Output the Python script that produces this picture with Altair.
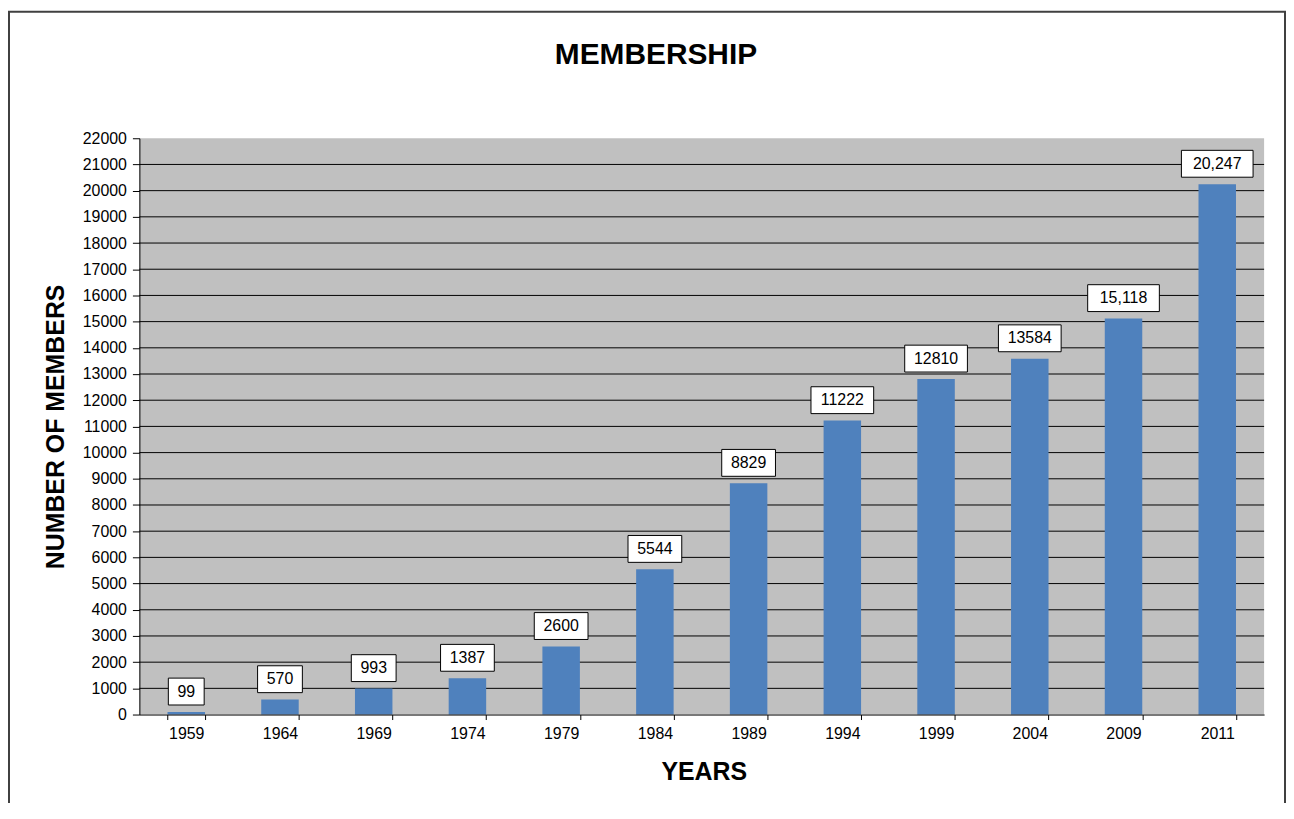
import altair as alt
import pandas as pd

# ---- data ----
years = ["1959", "1964", "1969", "1974", "1979", "1984", "1989", "1994", "1999", "2004", "2009", "2011"]
members = [99, 570, 993, 1387, 2600, 5544, 8829, 11222, 12810, 13584, 15118, 20247]
labels = ["99", "570", "993", "1387", "2600", "5544", "8829", "11222", "12810", "13584", "15,118", "20,247"]
y_ticks = [0, 1000, 2000, 3000, 4000, 5000, 6000, 7000, 8000, 9000, 10000, 11000,
           12000, 13000, 14000, 15000, 16000, 17000, 18000, 19000, 20000, 21000, 22000]

# ---- layout ----
W, H = 1130, 579
YMAX = 22000
U = YMAX / H  # data units per pixel
FONT = "Liberation Sans"

df = pd.DataFrame({"year": years, "members": members, "label": labels})
grid_df = pd.DataFrame({"members": y_ticks[1:-1]})
one = pd.DataFrame({"k": [0]})

yscale = alt.Scale(domain=[0, YMAX], nice=False, zero=True)
xscale = alt.Scale(paddingInner=0.6, paddingOuter=0.3)

yaxis = alt.Axis(
    title="NUMBER OF MEMBERS", values=y_ticks, format="d", grid=False,
    domainColor="black", domainWidth=1, tickColor="black", tickSize=7, tickWidth=1,
    labelFont=FONT, labelFontSize=16, labelColor="black", labelPadding=6,
    titleFont=FONT, titleFontSize=25, titleFontWeight="bold", titleColor="black",
    titleAngle=270, titleAlign="center", titleBaseline="middle",
    titleX=-84, titleY=H / 2, zindex=1,
)
xaxis = alt.Axis(
    title="YEARS", labelAngle=0, grid=False, tickBand="extent",
    domainColor="black", domainWidth=1, tickColor="black", tickSize=5, tickWidth=1,
    labelFont=FONT, labelFontSize=16, labelColor="black", labelPadding=6,
    titleFont=FONT, titleFontSize=25, titleFontWeight="bold", titleColor="black",
    titleAlign="center", titleBaseline="middle", titleX=W / 2 + 2, titleY=57, zindex=1,
)

def X():
    return alt.X("year:N", sort=years, scale=xscale, axis=xaxis)

def Y(field):
    return alt.Y(field, type="quantitative", scale=yscale, axis=yaxis)

border = alt.Chart(one).mark_rect(fill="white", stroke="#404040", strokeWidth=2, clip=False).encode(
    x=alt.value(-131), x2=alt.value(1151), y=alt.value(-127), y2=alt.value(720)
)
plotbg = alt.Chart(one).mark_rect(fill="#C0C0C0").encode(
    x=alt.value(0), x2=alt.value(W), y=alt.value(0), y2=alt.value(H)
)
grid = alt.Chart(grid_df).mark_rule(color="black", strokeWidth=1).encode(y=Y("members"))

bars = alt.Chart(df).mark_bar(color="#4F81BD").encode(x=X(), y=Y("members"))

boxes = alt.Chart(df).transform_calculate(
    box_lo=f"datum.members + {7 * U}",
    box_hi=f"datum.members + {34 * U}",
    box_w="9 * length(datum.label) + 18",
).mark_bar(fill="white", stroke="black", strokeWidth=1).encode(
    x=X(), y=Y("box_hi"), y2="box_lo:Q", size=alt.Size("box_w:Q", scale=None, legend=None)
)

texts = alt.Chart(df).mark_text(
    font=FONT, fontSize=16, color="black", baseline="middle", align="center", dy=-20.5
).encode(x=X(), y=Y("members"), text="label:N")

chart = alt.layer(border, plotbg, grid, bars, boxes, texts).properties(
    width=W, height=H,
    title=alt.TitleParams(
        "MEMBERSHIP", font=FONT, fontSize=30, fontWeight="bold", color="black",
        anchor="middle", frame="group", baseline="alphabetic", dx=-46, offset=-83,
    ),
    autosize=alt.AutoSizeParams(type="none"),
    padding={"left": 132, "top": 129, "right": 22, "bottom": 87},
).configure_view(stroke=None).configure(background="white")

chart.save("out.html", embed_options={"renderer": "svg", "actions": False})
